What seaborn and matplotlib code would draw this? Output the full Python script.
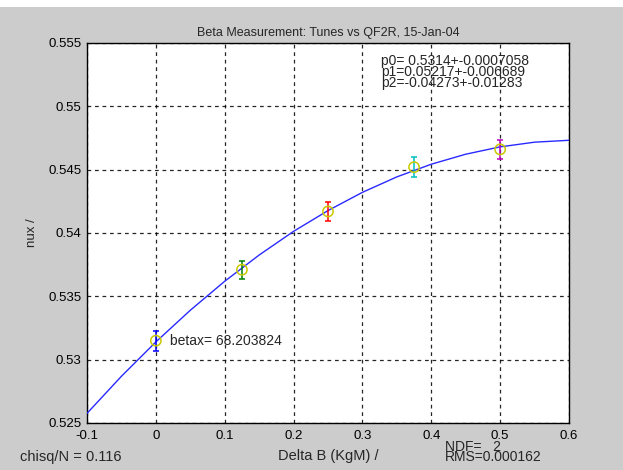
import matplotlib
matplotlib.use("Agg")
import matplotlib.pyplot as plt
import matplotlib.ticker as mticker
import seaborn as sns
import pandas as pd

# Measured data points (Delta B vs nux) with error bars
delta_b = [0.0, 0.125, 0.25, 0.375, 0.5]
nux = [0.5315, 0.5371, 0.5417, 0.5452, 0.5466]
nux_err = [0.0008, 0.0007, 0.00077, 0.0008, 0.00075]
err_colors = ["#0000ff", "#008000", "#ff0000", "#00bfbf", "#bf00bf"]

# Fitted curve
fit_x = [-0.1, -0.05, 0.0, 0.05, 0.1, 0.15, 0.2, 0.25, 0.3, 0.35, 0.4, 0.45, 0.5, 0.55, 0.6]
fit_y = [0.52576, 0.52869, 0.5314, 0.53390, 0.53619, 0.53826, 0.54013, 0.54177,
         0.54321, 0.54443, 0.54543, 0.54622, 0.54680, 0.54717, 0.54732]

x_ticks = [-0.1, 0.0, 0.1, 0.2, 0.3, 0.4, 0.5, 0.6]
y_ticks = [0.525, 0.53, 0.535, 0.54, 0.545, 0.55, 0.555]

sns.set_theme(style="white")
plt.rcParams['font.family'] = ['Liberation Sans', 'DejaVu Sans']

fig = plt.figure(figsize=(6.23, 4.70), dpi=100)
fig.patch.set_facecolor("#cccccc")
# white strip at very top
fig.patches.append(plt.Rectangle((0, 1 - 7 / 470), 1, 7 / 470, transform=fig.transFigure,
                                 facecolor="white", edgecolor="none", zorder=0))

ax = fig.add_axes([87 / 623, 1 - 423 / 470, (569 - 87) / 623, (423 - 43) / 470])
ax.set_facecolor("white")

fit_df = pd.DataFrame({"x": fit_x, "y": fit_y})
sns.lineplot(data=fit_df, x="x", y="y", ax=ax, color="#2a2aff", linewidth=1.0, zorder=3)

for xv, yv, ev, c in zip(delta_b, nux, nux_err, err_colors):
    ax.errorbar(xv, yv, yerr=ev, fmt="none", ecolor=c, elinewidth=1.1, capsize=2.2,
                capthick=1.1, zorder=4)

pts = pd.DataFrame({"x": delta_b, "y": nux})
sns.scatterplot(data=pts, x="x", y="y", ax=ax, marker="o", s=55, facecolors="none",
                edgecolor="#c8c800", linewidth=1.1, zorder=5)

ax.set_xlim(-0.1, 0.6)
ax.set_ylim(0.525, 0.555)
ax.set_xticks(x_ticks)
ax.set_yticks(y_ticks)
ax.xaxis.set_major_formatter(mticker.FuncFormatter(lambda v, p: "%g" % round(v, 4)))
ax.yaxis.set_major_formatter(mticker.FuncFormatter(lambda v, p: "%g" % round(v, 4)))
ax.tick_params(axis="both", direction="in", length=4, width=0.8, colors="black",
               labelsize=9.5, pad=4)
ax.tick_params(axis="x", pad=5)
ax.grid(True, color="black", linestyle=(0, (3, 3)), linewidth=0.9, alpha=0.85)
for s in ax.spines.values():
    s.set_visible(True)
    s.set_color("black")
    s.set_linewidth(1.0)

ax.set_xlabel("Delta B (KgM) /", fontsize=10.5)
ax.xaxis.set_label_coords(0.5, -(449 - 423) / (423 - 43))
ax.set_ylabel("nux /", fontsize=9.5)
ax.yaxis.set_label_coords(-(87 - 38) / (569 - 87), 0.5)
ax.set_title("Beta Measurement: Tunes vs QF2R, 15-Jan-04", fontsize=9, pad=5)

ax.text(0.327, 0.55413, "p0= 0.5314+-0.0007058\np1=0.05217+-0.006689\np2=-0.04273+-0.01283",
        fontsize=10, va="top", ha="left", linespacing=0.72, zorder=6)
ax.text(0.0205, 0.5315, "betax= 68.203824", fontsize=10, va="center", ha="left", zorder=6)

fig.text(20 / 623, 1 - 457 / 470, "chisq/N = 0.116", fontsize=10.5, va="center", ha="left")
fig.text(445 / 623, 1 - 447 / 470, "NDF=   2", fontsize=10, va="center", ha="left")
fig.text(445 / 623, 1 - 457 / 470, "RMS=0.000162", fontsize=10, va="center", ha="left")

fig.savefig("out.png", dpi=100, facecolor=fig.get_facecolor())
